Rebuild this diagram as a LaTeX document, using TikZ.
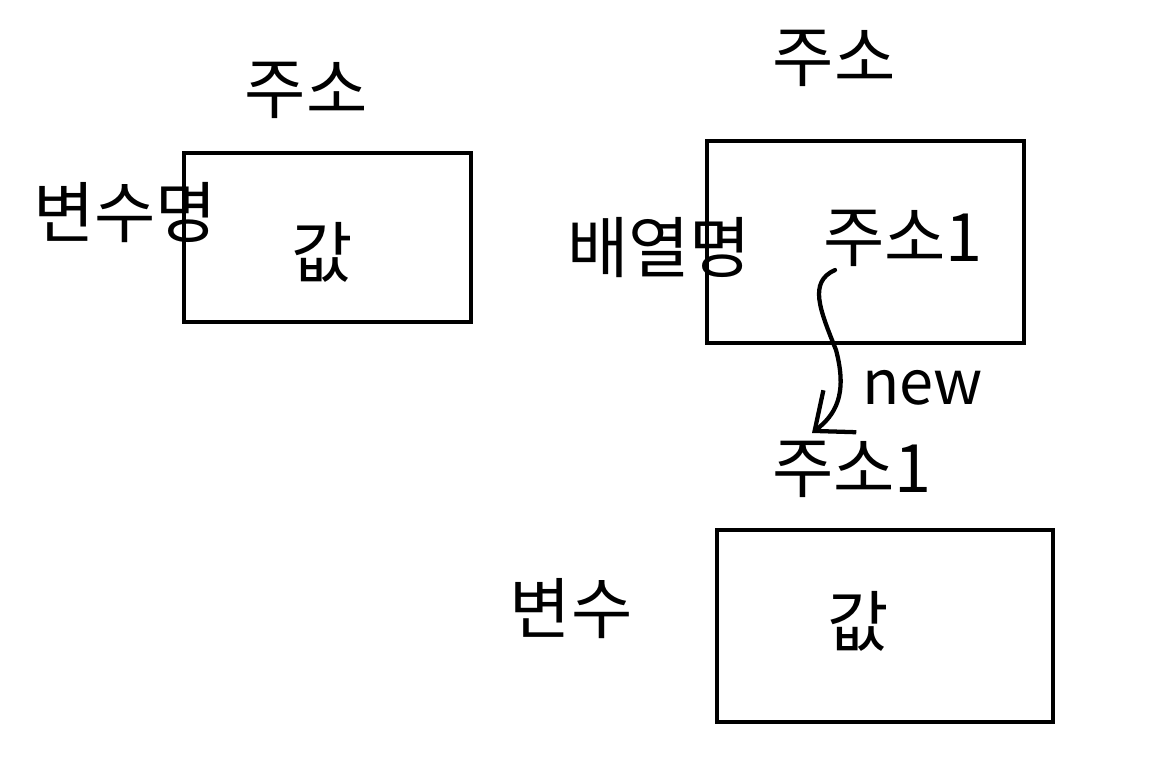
\documentclass[tikz,border=0pt]{standalone}
\usepackage{fontspec}
\setmainfont{Noto Sans CJK KR}
\usepackage{tikz}
\usetikzlibrary{arrows.meta}
\tikzset{%
    cell/.style={draw, line width=3.2pt, inner sep=0pt},
    lbl/.style={inner sep=0pt, font=\fontsize{50}{56}\selectfont}
}
\begin{document}
\begin{tikzpicture}[x=0.75pt,y=-0.75pt]
    \useasboundingbox (0,0) rectangle (1173,763);
%-----------------------------------------------
    \node[cell, minimum width=287*0.75pt, minimum height=169*0.75pt] (varbox) at (327.5,237.5) {};
    \node[cell, minimum width=317*0.75pt, minimum height=202*0.75pt] (arrbox) at (865.5,242) {};
    \node[cell, minimum width=336*0.75pt, minimum height=192*0.75pt] (objbox) at (885,626) {};
%-----------------------------------------------
    \node[lbl] (addrA) at (306,90) {주소};
    \node[lbl] (nameA) at (125,213) {변수명};
    \node[lbl] (valA) at (322,252) {값};
    \node[lbl] (addrB) at (834,58) {주소};
    \node[lbl] (nameB) at (659,248) {배열명};
    \node[lbl] (refB) at (903,238) {주소1};
    \node[lbl, font=\fontsize{46}{52}\selectfont, anchor=base west] (newlbl) at (862,404) {new};
    \node[lbl] (addrC) at (852,469) {주소1};
    \node[lbl] (nameC) at (571,609) {변수};
    \node[lbl] (valC) at (858,621) {값};
%-----------------------------------------------
    \coordinate (p0) at (835,270);
    \coordinate (p1) at (836,350);
    \coordinate (p2) at (812,433);
    \draw[line width=3.2pt, line cap=round, -{Straight Barb[length=24pt,width=40pt,line width=3.2pt]}]
        (p0) .. controls (808,282) and (820,310) .. (p1)
             .. controls (848,395) and (835,415) .. (p2);
\end{tikzpicture}
\end{document}
